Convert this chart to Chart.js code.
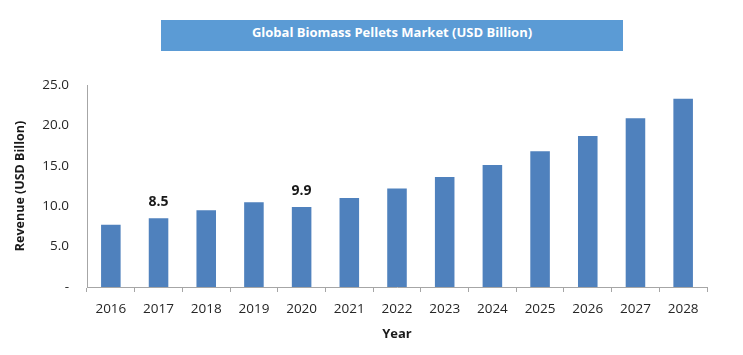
<!DOCTYPE html>
<html>
<head>
<meta charset="utf-8">
<script src="https://cdn.jsdelivr.net/npm/chart.js@4"></script>
<style>
  html, body { margin: 0; padding: 0; background: #ffffff; }
  #wrap { position: relative; width: 743px; height: 355px; }
  #title {
    position: absolute; left: 161px; top: 20px; width: 462px; height: 31px;
    background: #5B9BD5; color: #ffffff;
    font: bold 13px "Open Sans", sans-serif;
    text-align: center; line-height: 25px;
  }
  canvas { position: absolute; left: 0; top: 0; }
</style>
</head>
<body>
<div id="wrap">
  <canvas id="c" width="743" height="355"></canvas>
  <div id="title">Global Biomass Pellets Market (USD Billion)</div>
</div>
<script>
const years = ['2016','2017','2018','2019','2020','2021','2022','2023','2024','2025','2026','2027','2028'];
const revenue = [7.7, 8.5, 9.5, 10.5, 9.9, 11.0, 12.2, 13.6, 15.1, 16.8, 18.7, 20.9, 23.3];
const labelledYears = ['2017', '2020'];
const yTicks = [0, 5, 10, 15, 20, 25];
const chartTitle = 'Global Biomass Pellets Market (USD Billion)';
const xTitle = 'Year';
const yTitle = 'Revenue (USD Billon)';

const valueLabels = {
  id: 'valueLabels',
  afterDatasetsDraw(chart) {
    const ctx = chart.ctx;
    const meta = chart.getDatasetMeta(0);
    ctx.save();
    ctx.font = 'bold 14px "Open Sans", sans-serif';
    ctx.fillStyle = '#1a1a1a';
    ctx.textAlign = 'center';
    ctx.textBaseline = 'middle';
    years.forEach((y, i) => {
      if (labelledYears.includes(y)) {
        const el = meta.data[i];
        ctx.fillText(revenue[i].toFixed(1), el.x, el.y - 16);
      }
    });
    ctx.restore();
  }
};

new Chart(document.getElementById('c'), {
  type: 'bar',
  data: {
    labels: years,
    datasets: [{
      data: revenue,
      backgroundColor: '#4F81BD',
      borderWidth: 0,
      barPercentage: 0.82,
      categoryPercentage: 0.5
    }]
  },
  options: {
    responsive: false,
    animation: false,
    devicePixelRatio: 1,
    layout: { padding: { top: 85, right: 36, bottom: 13, left: 0 } },
    plugins: { legend: { display: false }, tooltip: { enabled: false }, title: { display: false } },
    scales: {
      x: {
        grid: { display: true, drawOnChartArea: false, drawTicks: true, tickLength: 5, color: '#a6a6a6', offset: true },
        border: { color: '#a6a6a6', width: 1 },
        ticks: { color: '#262626', font: { family: '"Open Sans", sans-serif', size: 13.5 }, padding: 9, maxRotation: 0 },
        title: { display: true, text: xTitle, color: '#1a1a1a', font: { family: '"Open Sans", sans-serif', size: 13, weight: 'bold' }, padding: { top: 4, bottom: 0 } },
        afterFit(scale) { scale.height = 55; }
      },
      y: {
        min: 0, max: 25,
        afterBuildTicks(scale) { scale.ticks = yTicks.map(v => ({ value: v })); },
        grid: { display: false, drawTicks: false },
        border: { color: '#a6a6a6', width: 1 },
        ticks: {
          color: '#262626', font: { family: '"Open Sans", sans-serif', size: 13.5 }, padding: 18,
          callback: v => v === 0 ? '-' : Number(v).toFixed(1)
        },
        title: { display: true, text: yTitle, color: '#1a1a1a', font: { family: '"Open Sans", sans-serif', size: 12.5, weight: 'bold' }, padding: { top: 13, bottom: 4 } },
        afterFit(scale) { scale.width = 87; }
      }
    }
  },
  plugins: [valueLabels]
});
</script>
</body>
</html>
